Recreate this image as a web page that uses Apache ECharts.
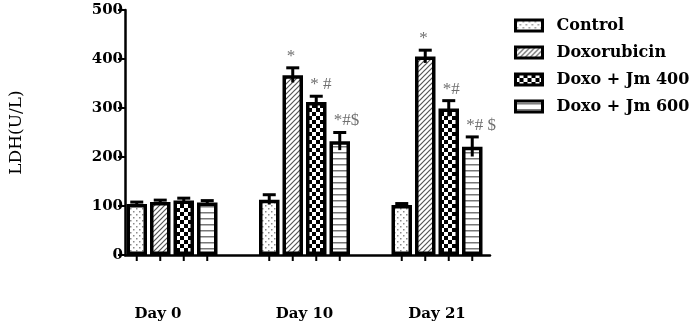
<!DOCTYPE html>
<html>
<head>
<meta charset="utf-8">
<script src="https://cdn.jsdelivr.net/npm/echarts@6/dist/echarts.min.js"></script>
<style>
  html, body { margin: 0; padding: 0; background: #fff; }
  #chart { width: 692px; height: 328px; }
</style>
</head>
<body>
<div id="chart"></div>
<script>
// 数据
var categories = ['Day 0', 'Day 10', 'Day 21'];
var groupNames = ['Control', 'Doxorubicin', 'Doxo + Jm 400', 'Doxo + Jm 600'];
var controlMean = [104, 113, 102];
var doxMean = [108, 367, 405];
var jm400Mean = [111, 312, 299];
var jm600Mean = [107, 232, 221];
var controlErr = [4, 10, 3];
var doxErr = [4, 15, 13];
var jm400Err = [5, 12, 16];
var jm600Err = [4, 18, 20];
var controlNote = ['', '', ''];
var doxNote = ['', '*', '*'];
var jm400Note = ['', '* #', '*#'];
var jm600Note = ['', '*#$', '*# $'];
var yMin = 0, yMax = 500, yStep = 100;

var means = [controlMean, doxMean, jm400Mean, jm600Mean];
var errs = [controlErr, doxErr, jm400Err, jm600Err];
var notes = [controlNote, doxNote, jm400Note, jm600Note];

// 填充图案
function makePattern(kind) {
    var c = document.createElement('canvas');
    var ctx = c.getContext('2d');
    if (kind === 'dots') {
        c.width = 6; c.height = 6;
        ctx.fillStyle = '#fff'; ctx.fillRect(0, 0, 6, 6);
        ctx.fillStyle = '#8a8a8a';
        ctx.fillRect(1, 1, 1.5, 1.5);
        ctx.fillRect(4, 4, 1.5, 1.5);
    } else if (kind === 'diag') {
        c.width = 5; c.height = 5;
        ctx.fillStyle = '#fff'; ctx.fillRect(0, 0, 5, 5);
        ctx.strokeStyle = '#555'; ctx.lineWidth = 1.2;
        ctx.beginPath();
        ctx.moveTo(-1, 6); ctx.lineTo(6, -1);
        ctx.moveTo(-1, 1); ctx.lineTo(1, -1);
        ctx.moveTo(4, 6); ctx.lineTo(6, 4);
        ctx.stroke();
    } else if (kind === 'check') {
        c.width = 8; c.height = 8;
        ctx.fillStyle = '#fff'; ctx.fillRect(0, 0, 8, 8);
        ctx.fillStyle = '#000';
        ctx.fillRect(0, 0, 4, 4);
        ctx.fillRect(4, 4, 4, 4);
    } else {
        c.width = 6; c.height = 6;
        ctx.fillStyle = '#fff'; ctx.fillRect(0, 0, 6, 6);
        ctx.fillStyle = '#777';
        ctx.fillRect(0, 2, 6, 1.5);
    }
    return { image: c, repeat: 'repeat' };
}
var patterns = [makePattern('dots'), makePattern('diag'), makePattern('check'), makePattern('hlines')];

var barW = 20.5;
var barGapPx = 3;
var pitch = barW + barGapPx;

var chart = echarts.init(document.getElementById('chart'));

var series = [];
for (var g = 0; g < 4; g++) {
    series.push({
        name: groupNames[g],
        type: 'bar',
        xAxisIndex: 1,
        yAxisIndex: 1,
        barWidth: barW,
        barGap: (barGapPx / barW * 100) + '%',
        data: means[g],
        itemStyle: {
            color: patterns[g],
            borderColor: '#000',
            borderWidth: 3.5
        },
        z: 2
    });
}
// 误差线 + 标注
for (var k = 0; k < 4; k++) {
    (function (g) {
        var d = [];
        for (var i = 0; i < categories.length; i++) {
            d.push([i, means[g][i], errs[g][i]]);
        }
        series.push({
            type: 'custom',
            xAxisIndex: 1,
            yAxisIndex: 1,
            z: 5,
            silent: true,
            encode: { x: 0, y: 1 },
            data: d,
            renderItem: function (params, api) {
                var cat = api.value(0), m = api.value(1), e = api.value(2);
                var c = api.coord([cat, m]);
                var x = c[0] + (g - 1.5) * pitch;
                var yTop = api.coord([cat, m + e])[1];
                var yBot = api.coord([cat, m - e])[1];
                var y0 = api.coord([cat, 0])[1];
                var ls = { stroke: '#000', lineWidth: 3 };
                return {
                    type: 'group',
                    children: [
                        { type: 'line', shape: { x1: x, y1: yBot, x2: x, y2: yTop }, style: ls },
                        { type: 'line', shape: { x1: x - 6.5, y1: yTop, x2: x + 6.5, y2: yTop }, style: ls },
                        { type: 'line', shape: { x1: x, y1: y0, x2: x, y2: y0 + 6 }, style: { stroke: '#000', lineWidth: 2 } },
                        {
                            type: 'text',
                            style: {
                                text: notes[g][params.dataIndex],
                                x: x - 6,
                                y: yTop - 3,
                                align: 'left',
                                verticalAlign: 'bottom',
                                fill: '#707070',
                                font: '17px "Liberation Serif"'
                            }
                        }
                    ]
                };
            }
        });
    })(k);
}

var option = {
    animation: false,
    legend: {
        orient: 'vertical',
        left: 514,
        top: 17,
        padding: 0,
        itemWidth: 27,
        itemHeight: 11,
        itemGap: 10,
        icon: 'rect',
        itemStyle: { borderColor: '#000', borderWidth: 3 },
        textStyle: {
            fontFamily: 'DejaVu Serif', fontWeight: 'bold', fontSize: 16,
            color: '#000', lineHeight: 17, padding: [0, 0, 0, 9]
        },
        data: groupNames
    },
    grid: [
        { left: 122, right: 202, top: 10, bottom: 73 },
        { left: 105.75, right: 188.75, top: 10, bottom: 73 }
    ],
    xAxis: [
        {
            gridIndex: 0, type: 'value', min: 0, max: 1,
            axisLine: { show: true, lineStyle: { color: '#000', width: 2.5 } },
            axisTick: { show: false }, axisLabel: { show: false }, splitLine: { show: false }
        },
        {
            gridIndex: 1, type: 'category', data: categories,
            axisLine: { show: false }, axisTick: { show: false },
            axisLabel: {
                margin: 52,
                fontSize: 15,
                fontFamily: 'DejaVu Serif', fontWeight: 'bold', color: '#000',
                formatter: function (v, i) { return i === 0 ? '{a|' + v + '}' : v; },
                rich: { a: { fontSize: 15, fontFamily: 'DejaVu Serif', fontWeight: 'bold', color: '#000', padding: [0, 28, 0, 0] } }
            }
        }
    ],
    yAxis: [
        {
            gridIndex: 0, type: 'value', min: yMin, max: yMax, interval: yStep,
            name: 'LDH(U/L)', nameLocation: 'middle', nameGap: 100,
            nameTextStyle: { fontFamily: 'DejaVu Serif', fontSize: 17, color: '#000' },
            axisLine: { show: true, lineStyle: { color: '#000', width: 2.5 } },
            axisTick: { show: true, inside: false, length: 7, lineStyle: { color: '#000', width: 2 } },
            axisLabel: { margin: 2, fontSize: 15, fontFamily: 'DejaVu Serif', fontWeight: 'bold', color: '#000' },
            splitLine: { show: false }
        },
        {
            gridIndex: 1, type: 'value', min: yMin, max: yMax, interval: yStep, show: false,
            splitLine: { show: false }
        }
    ],
    series: series
};

chart.setOption(option);
window.onresize = function () { chart.resize(); };
</script>
</body>
</html>
